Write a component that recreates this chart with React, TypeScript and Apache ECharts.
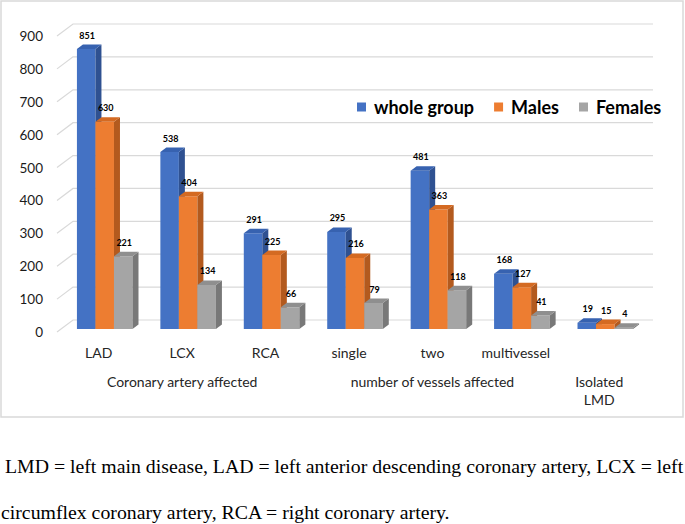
import React, { useEffect, useRef } from 'react';
import * as echarts from 'echarts';

const categories = ['LAD', 'LCX', 'RCA', 'single', 'two', 'multivessel', ''];
const groupLabels = ['', 'Coronary artery affected', '', '', 'number of vessels affected', '', 'Isolated\nLMD'];
const seriesNames = ['whole group', 'Males', 'Females'];
const wholeGroup = [851, 538, 291, 295, 481, 168, 19];
const males = [630, 404, 225, 216, 363, 127, 15];
const females = [221, 134, 66, 79, 118, 41, 4];
const yTicks = [0, 100, 200, 300, 400, 500, 600, 700, 800, 900];
const caption1 = 'LMD = left main disease, LAD = left anterior descending coronary artery, LCX = left';
const caption2 = 'circumflex coronary artery, RCA = right coronary artery.';

const palettes = [
  { front: '#4472c4', side: '#2f5191', top: '#3762b0' },
  { front: '#ed7d31', side: '#b35a1e', top: '#d46a22' },
  { front: '#a5a5a5', side: '#787878', top: '#8f8f8f' },
];

const DEPTH_X = 16;
const DEPTH_Y = -12;
const BAR_DX = 6;
const BAR_DY = -3;
const SIDE_X = 6;
const SIDE_Y = -4.5;
const BAR_FRAC = 0.222;
const SANS = 'Lato, "Open Sans", sans-serif';
const SERIF = '"Liberation Serif", "Times New Roman", serif';

export default function App() {
  const ref = useRef<HTMLDivElement>(null);

  useEffect(() => {
    if (!ref.current) return;
    const chart = echarts.init(ref.current, undefined, { renderer: 'svg' });

    const makeBars = (i: number, values: number[]) => ({
      type: 'custom',
      name: seriesNames[i],
      xAxisIndex: 0,
      yAxisIndex: 0,
      z: 3,
      clip: false,
      itemStyle: { color: palettes[i].front },
      data: values.map((v, k) => [k, v]),
      renderItem: (params: any, api: any) => {
        const cat = api.value(0);
        const val = api.value(1);
        const base = api.coord([cat, 0]);
        const topP = api.coord([cat, val]);
        const band = api.size([1, 0])[0];
        const bw = band * BAR_FRAC;
        const cx = base[0] + BAR_DX;
        const x0 = cx - 1.5 * bw + i * bw;
        const x1 = x0 + bw;
        const yb = base[1] + BAR_DY;
        const yt = topP[1] + BAR_DY;
        const p = palettes[i];
        return {
          type: 'group',
          children: [
            { type: 'rect', shape: { x: x0, y: yt, width: bw, height: Math.max(yb - yt, 0) }, style: { fill: p.front } },
            {
              type: 'polygon',
              shape: { points: [[x1, yb], [x1, yt], [x1 + SIDE_X, yt + SIDE_Y], [x1 + SIDE_X, yb + SIDE_Y]] },
              style: { fill: p.side },
            },
            {
              type: 'polygon',
              shape: { points: [[x0, yt], [x1, yt], [x1 + SIDE_X, yt + SIDE_Y], [x0 + SIDE_X, yt + SIDE_Y]] },
              style: { fill: p.top },
            },
            {
              type: 'text',
              z2: 100,
              style: {
                text: String(val),
                x: x0 + bw / 2 + 1,
                y: yt + SIDE_Y - 5,
                align: 'center',
                verticalAlign: 'bottom',
                fontSize: 9,
                fontWeight: 'bold',
                fontFamily: SANS,
                fill: '#000',
              },
            },
          ],
        };
      },
    });

    const option: any = {
      animation: false,
      backgroundColor: '#fff',
      grid: { left: 57, right: 44, top: 36, bottom: 192, containLabel: false },
      legend: {
        data: seriesNames,
        left: 357,
        top: 98,
        padding: 0,
        icon: 'rect',
        itemWidth: 9,
        itemHeight: 9,
        itemGap: 20,
        selectedMode: false,
        textStyle: { fontSize: 18, fontWeight: 'bold', color: '#000', fontFamily: SANS, padding: [0, 0, 0, 3] },
      },
      xAxis: [
        {
          type: 'category',
          data: categories,
          axisLine: { show: false },
          axisTick: { show: false },
          splitLine: { show: false },
          axisLabel: { interval: 0, margin: 13, fontSize: 14, color: '#262626', fontFamily: SANS },
        },
        {
          type: 'category',
          data: groupLabels,
          position: 'bottom',
          axisLine: { show: false },
          axisTick: { show: false },
          splitLine: { show: false },
          axisLabel: { interval: 0, margin: 40, fontSize: 14, lineHeight: 18, color: '#262626', fontFamily: SANS },
        },
      ],
      yAxis: {
        type: 'value',
        min: 0,
        max: 900,
        interval: 100,
        axisLine: { show: false },
        axisTick: { show: false },
        splitLine: { show: false },
        axisLabel: { margin: 14, fontSize: 13.5, color: '#1a1a1a', fontFamily: SANS },
      },
      graphic: [
        {
          type: 'rect',
          shape: { x: 1, y: 1, width: 682, height: 416 },
          style: { fill: 'none', stroke: '#d9d9d9', lineWidth: 1.5 },
          silent: true,
        },
        {
          type: 'text',
          left: 5,
          top: 456,
          style: { text: caption1, fontSize: 19.8, fontFamily: SERIF, fill: '#000' },
        },
        {
          type: 'text',
          left: 1,
          top: 502,
          style: { text: caption2, fontSize: 19.8, fontFamily: SERIF, fill: '#000' },
        },
      ],
      series: [
        {
          type: 'custom',
          name: 'gridlines',
          z: 1,
          clip: false,
          silent: true,
          xAxisIndex: 0,
          yAxisIndex: 0,
          data: yTicks.map((t) => [0, t]),
          renderItem: (params: any, api: any) => {
            const cs = params.coordSys;
            const y = api.coord([0, api.value(1)])[1];
            const x0 = cs.x;
            return {
              type: 'polyline',
              shape: { points: [[x0, y], [x0 + DEPTH_X, y + DEPTH_Y], [x0 + cs.width + 12, y + DEPTH_Y]] },
              style: { stroke: '#d9d9d9', lineWidth: 1.2, fill: 'none' },
            };
          },
        },
        makeBars(0, wholeGroup),
        makeBars(1, males),
        makeBars(2, females),
      ],
    };

    chart.setOption(option);
    return () => chart.dispose();
  }, []);

  return <div ref={ref} style={{ position: 'fixed', left: 0, top: 0, width: 685, height: 524 }} />;
}
